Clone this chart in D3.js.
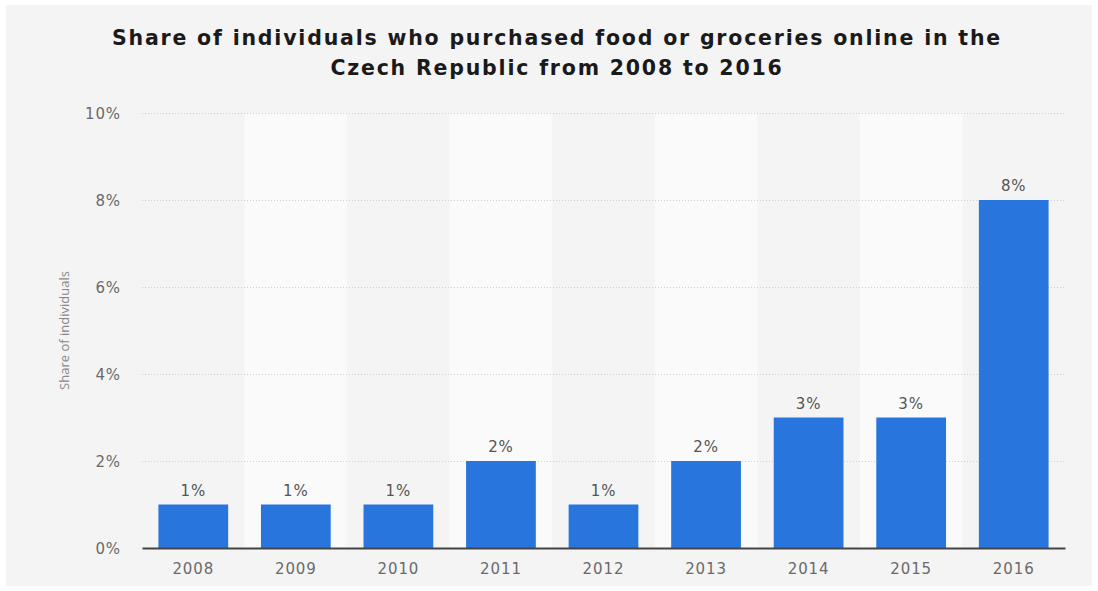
<!DOCTYPE html>
<html>
<head>
<meta charset="utf-8">
<script src="https://cdn.jsdelivr.net/npm/d3@7"></script>
<style>
  html, body { margin: 0; padding: 0; background: #ffffff; }
  svg { display: block; }
</style>
</head>
<body>
<svg id="chart" width="1098" height="591"></svg>
<script>
// Online food/grocery purchases, Czech Republic
const years = ["2008", "2009", "2010", "2011", "2012", "2013", "2014", "2015", "2016"];
const shares = [1, 1, 1, 2, 1, 2, 3, 3, 8];
const yTicks = [0, 2, 4, 6, 8, 10];
const titleLines = [
  "Share of individuals who purchased food or groceries online in the",
  "Czech Republic from 2008 to 2016"
];
const yAxisTitle = "Share of individuals";

const svg = d3.select("#chart");
const W = 1098, H = 591;
const margin = { left: 142, right: 1065, top: 113, bottom: 548 };

// card background
svg.append("rect")
  .attr("x", 6).attr("y", 5).attr("width", W - 12).attr("height", H - 10)
  .attr("fill", "#f4f4f4");

const x = d3.scaleBand().domain(years)
  .range([margin.left, margin.right])
  .paddingInner(0.32).paddingOuter(0.16);
const xBands = d3.scaleBand().domain(years)
  .range([margin.left, margin.right]).padding(0);
const y = d3.scaleLinear().domain([0, 10]).range([margin.bottom, margin.top]);

// alternating column shading
svg.append("g").selectAll("rect")
  .data(years.filter((d, i) => i % 2 === 1))
  .join("rect")
  .attr("x", d => xBands(d))
  .attr("y", margin.top)
  .attr("width", xBands.bandwidth())
  .attr("height", margin.bottom - margin.top)
  .attr("fill", "#fafafa");

// horizontal gridlines
svg.append("g").selectAll("line")
  .data(yTicks.filter(t => t > 0))
  .join("line")
  .attr("x1", margin.left).attr("x2", margin.right)
  .attr("y1", d => Math.round(y(d)) + 0.5).attr("y2", d => Math.round(y(d)) + 0.5)
  .attr("stroke", "#cfcfcf")
  .attr("stroke-width", 1)
  .attr("stroke-dasharray", "1,2");

// y-axis tick labels
const yAxis = d3.axisLeft(y).tickValues(yTicks).tickFormat(d => d + "%").tickSize(0).tickPadding(0);
const yg = svg.append("g").attr("transform", "translate(121,0)").call(yAxis);
yg.select(".domain").remove();
yg.selectAll("text")
  .attr("dy", "0.38em")
  .attr("fill", "#6a6a6a")
  .style("font-family", "DejaVu Sans, sans-serif")
  .style("font-size", "15px")
  .style("letter-spacing", "0.9px");

// y-axis title
svg.append("text")
  .attr("transform", `translate(69,${(margin.top + margin.bottom) / 2}) rotate(-90)`)
  .attr("text-anchor", "middle")
  .attr("fill", "#888")
  .style("font-family", "Open Sans, sans-serif")
  .style("font-size", "13px")
  .text(yAxisTitle);

// bars
svg.append("g").selectAll("rect")
  .data(years.map((d, i) => ({ year: d, v: shares[i] })))
  .join("rect")
  .attr("x", d => x(d.year))
  .attr("y", d => y(d.v))
  .attr("width", x.bandwidth())
  .attr("height", d => y(0) - y(d.v))
  .attr("fill", "#2876dd");

// value labels
svg.append("g").selectAll("text")
  .data(years.map((d, i) => ({ year: d, v: shares[i] })))
  .join("text")
  .attr("x", d => x(d.year) + x.bandwidth() / 2)
  .attr("y", d => y(d.v) - 9)
  .attr("text-anchor", "middle")
  .attr("fill", "#555")
  .style("font-family", "DejaVu Sans, sans-serif")
  .style("font-size", "15px")
  .style("letter-spacing", "0.9px")
  .text(d => d.v + "%");

// x axis
const xAxis = d3.axisBottom(xBands).tickSize(0).tickPadding(15);
const xg = svg.append("g").attr("transform", `translate(0,${margin.bottom})`).call(xAxis);
xg.select(".domain").attr("stroke", "#444").attr("stroke-width", 2);
xg.selectAll("text")
  .attr("fill", "#6a6a6a")
  .style("font-family", "DejaVu Sans, sans-serif")
  .style("font-size", "15px")
  .style("letter-spacing", "0.9px");

// title
svg.append("g").selectAll("text")
  .data(titleLines)
  .join("text")
  .attr("x", 557)
  .attr("y", (d, i) => 45 + i * 30)
  .attr("text-anchor", "middle")
  .attr("fill", "#1a1a1a")
  .style("font-family", "DejaVu Sans, sans-serif")
  .style("font-weight", "bold")
  .style("font-size", "20.5px")
  .style("letter-spacing", "1.8px")
  .text(d => d);
</script>
</body>
</html>
